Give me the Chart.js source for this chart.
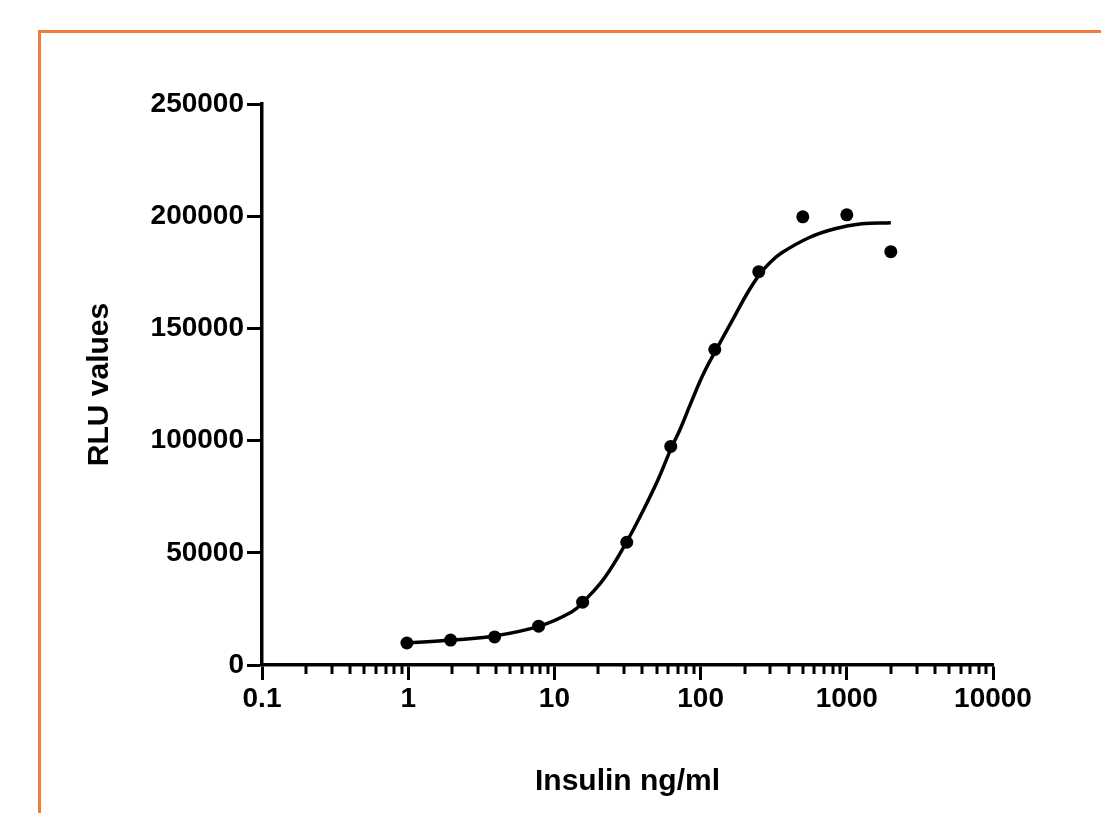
<!DOCTYPE html>
<html>
<head>
<meta charset="utf-8">
<script src="https://cdn.jsdelivr.net/npm/chart.js@4/dist/chart.umd.min.js"></script>
<style>
  html, body { margin: 0; padding: 0; background: #ffffff; }
  canvas { display: block; }
</style>
</head>
<body>
<canvas id="c" width="1101" height="813"></canvas>
<script>
// ---- data ----
const doseX = [0.98, 1.95, 3.9, 7.8, 15.6, 31.25, 62.5, 125, 250, 500, 1000, 2000];
const rluY  = [9800, 11100, 12500, 17300, 28000, 54700, 97400, 140600, 175300, 199700, 200600, 184200];

// fitted curve, points
const curveX = [0.98, 1.97, 3.88, 7.9, 13.1, 15.8, 22, 31.1, 41.3, 51.5, 63.3, 71.8, 86.7, 105, 129, 171, 210, 254, 300, 359, 550, 828, 1267, 2000];
const curveY = [9800, 11100, 12900, 17300, 23600, 28200, 38800, 54700, 70000, 83000, 97000, 104500, 117500, 130000, 141000, 155500, 166000, 174200, 179500, 183700, 190400, 194400, 196600, 197100];

const xTickLabels = ['0.1', '1', '10', '100', '1000', '10000'];
const yTickValues = [0, 50000, 100000, 150000, 200000, 250000];

const xTitle = 'Insulin ng/ml';
const yTitle = 'RLU values';

// ---- helpers ----
const FONT = "'Liberation Sans', Arial, sans-serif";
function isDecade(v) {
  const l = Math.log10(v);
  return Math.abs(l - Math.round(l)) < 1e-9;
}
const xMin = parseFloat(xTickLabels[0]);
const xMax = parseFloat(xTickLabels[xTickLabels.length - 1]);

const framePlugin = {
  id: 'frame',
  beforeDraw(chart) {
    const ctx = chart.ctx;
    ctx.save();
    ctx.strokeStyle = '#F07E3A';
    ctx.lineWidth = 3;
    ctx.beginPath();
    ctx.moveTo(39.5, chart.height);
    ctx.lineTo(39.5, 31.5);
    ctx.lineTo(chart.width, 31.5);
    ctx.stroke();
    ctx.restore();
  },
  afterDraw(chart) {
    // minor tick marks of the log axis (shorter than the major ones)
    const xs = chart.scales.x;
    const ctx = chart.ctx;
    ctx.save();
    ctx.strokeStyle = '#000';
    ctx.lineWidth = 3;
    ctx.beginPath();
    xs.ticks.forEach(t => {
      if (!isDecade(t.value)) {
        const px = Math.round(xs.getPixelForValue(t.value));
        ctx.moveTo(px, xs.top);
        ctx.lineTo(px, xs.top + 9);
      }
    });
    ctx.stroke();
    ctx.restore();
  }
};

new Chart(document.getElementById('c'), {
  type: 'scatter',
  data: {
    datasets: [
      {
        label: 'fit',
        data: curveX.map((x, i) => ({ x: x, y: curveY[i] })),
        showLine: true,
        borderColor: '#000',
        borderWidth: 3.5,
        pointRadius: 0,
        tension: 0.4,
        fill: false
      },
      {
        label: 'data',
        data: doseX.map((x, i) => ({ x: x, y: rluY[i] })),
        showLine: false,
        pointRadius: 6.5,
        pointBackgroundColor: '#000',
        pointBorderColor: '#000',
        pointBorderWidth: 0
      }
    ]
  },
  options: {
    responsive: false,
    animation: false,
    events: [],
    layout: { padding: { top: 104, right: 108, left: 0, bottom: 0 } },
    plugins: {
      legend: { display: false },
      tooltip: { enabled: false },
      title: { display: false }
    },
    scales: {
      x: {
        type: 'logarithmic',
        position: 'bottom',
        min: xMin,
        max: xMax,
        afterBuildTicks(scale) {
          const ticks = [];
          for (let e = Math.round(Math.log10(xMin)); e < Math.round(Math.log10(xMax)); e++) {
            for (let m = 1; m <= 9; m++) {
              ticks.push({ value: parseFloat((m * Math.pow(10, e)).toPrecision(3)) });
            }
          }
          ticks.push({ value: xMax });
          scale.ticks = ticks;
        },
        afterFit(scale) { scale.height = 148; },
        border: { display: true, color: '#000', width: 3.5 },
        grid: {
          display: true,
          drawOnChartArea: false,
          drawTicks: true,
          tickLength: 15,
          tickWidth: 3,
          tickColor: (ctx) => (ctx.tick && isDecade(ctx.tick.value)) ? '#000' : 'rgba(0,0,0,0)'
        },
        ticks: {
          autoSkip: false,
          maxRotation: 0,
          minRotation: 0,
          padding: 2,
          color: '#000',
          font: { family: FONT, size: 28, weight: 'bold' },
          callback: function (value) {
            if (!isDecade(value)) return '';
            const idx = Math.round(Math.log10(value) - Math.log10(xMin));
            return xTickLabels[idx];
          }
        },
        title: {
          display: true,
          text: xTitle,
          color: '#000',
          font: { family: FONT, size: 30, weight: 'bold' },
          padding: { top: 0, bottom: 13 }
        }
      },
      y: {
        type: 'linear',
        position: 'left',
        min: yTickValues[0],
        max: yTickValues[yTickValues.length - 1],
        afterBuildTicks(scale) {
          scale.ticks = yTickValues.map(v => ({ value: v }));
        },
        afterFit(scale) { scale.width = 262; },
        border: { display: true, color: '#000', width: 3.5 },
        grid: {
          display: true,
          drawOnChartArea: false,
          drawTicks: true,
          tickLength: 15,
          tickWidth: 3,
          tickColor: '#000'
        },
        ticks: {
          padding: 3,
          color: '#000',
          font: { family: FONT, size: 28, weight: 'bold' },
          callback: (value) => String(value)
        },
        title: {
          display: true,
          text: yTitle,
          color: '#000',
          font: { family: FONT, size: 30, weight: 'bold' },
          padding: { top: 82, bottom: 0 }
        }
      }
    }
  },
  plugins: [framePlugin]
});
</script>
</body>
</html>
